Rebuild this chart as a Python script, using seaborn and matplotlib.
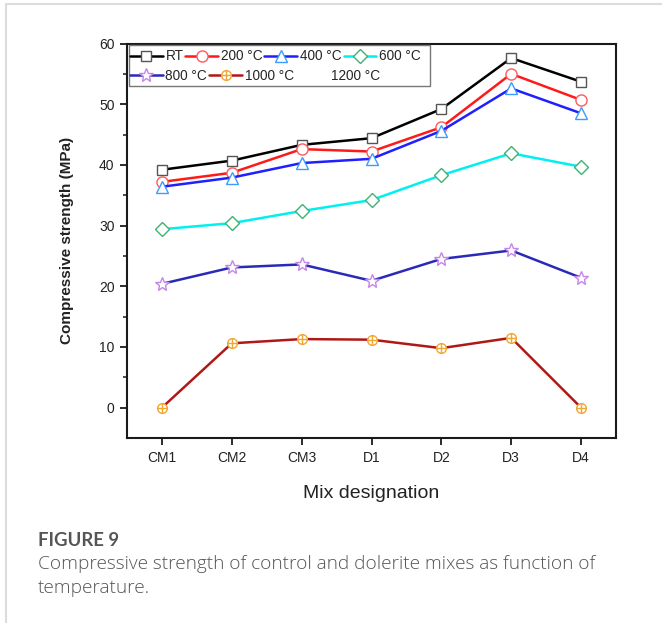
import numpy as np
import pandas as pd
import matplotlib
matplotlib.use("Agg")
import matplotlib.pyplot as plt
from matplotlib.lines import Line2D
from matplotlib.patches import Rectangle
from matplotlib.path import Path
import seaborn as sns

# ---------------- data ----------------
mixes = ["CM1", "CM2", "CM3", "D1", "D2", "D3", "D4"]
rt = [39.2, 40.7, 43.3, 44.4, 49.2, 57.6, 53.7]
t200 = [37.2, 38.7, 42.6, 42.2, 46.2, 55.0, 50.7]
t400 = [36.4, 37.9, 40.3, 41.0, 45.6, 52.6, 48.5]
t600 = [29.4, 30.4, 32.4, 34.2, 38.3, 41.9, 39.7]
t800 = [20.4, 23.1, 23.6, 20.9, 24.5, 25.9, 21.4]
t1000 = [0.0, 10.6, 11.3, 11.2, 9.8, 11.5, 0.0]
series_labels = ["RT", "200 °C", "400 °C", "600 °C", "800 °C", "1000 °C", "1200 °C"]
yticks = [0, 10, 20, 30, 40, 50, 60]

values = [rt, t200, t400, t600, t800, t1000]
df = pd.DataFrame({
    "mix": mixes * len(values),
    "strength": np.concatenate(values),
    "series": np.repeat(series_labels[:len(values)], len(mixes)),
})

# circle with plus marker
circ = Path.unit_circle()
cross = Path([[-1, 0], [1, 0], [0, -1], [0, 1]],
             [Path.MOVETO, Path.LINETO, Path.MOVETO, Path.LINETO])
oplus = Path.make_compound_path(circ, cross)

styles = {
    "RT": dict(color="#000000", marker="s", mec="#555555"),
    "200 °C": dict(color="#ff1a1a", marker="o", mec="#ff5a5a"),
    "400 °C": dict(color="#1f1fff", marker="^", mec="#3d9bff"),
    "600 °C": dict(color="#00f0f0", marker="D", mec="#3cb371"),
    "800 °C": dict(color="#2a2ab8", marker="*", mec="#c586e8"),
    "1000 °C": dict(color="#b01818", marker=oplus, mec="#f0a830"),
}
msizes = {"RT": 7, "200 °C": 8, "400 °C": 8, "600 °C": 7, "800 °C": 10, "1000 °C": 7}

sns.set_style("white")
plt.rcParams["font.family"] = ["Liberation Sans", "DejaVu Sans"]

W, H = 662, 623
fig = plt.figure(figsize=(W / 100, H / 100), dpi=100)
ax = fig.add_axes([127 / W, 1 - 438 / H, (616 - 127) / W, (438 - 43.5) / H])

for lab in series_labels[:len(values)]:
    st = styles[lab]
    sub = df[df["series"] == lab]
    sns.lineplot(data=sub, x="mix", y="strength", ax=ax, sort=False,
                 color=st["color"], linewidth=1.8, marker=st["marker"],
                 markersize=msizes[lab], markerfacecolor="white",
                 markeredgecolor=st["mec"], markeredgewidth=1.0, label=lab)

ax.set_xlim(-0.5, len(mixes) - 0.5)
ax.set_ylim(-5, 60)
ax.set_yticks(yticks)
ax.set_yticks([5, 15, 25, 35, 45, 55], minor=True)

for sp in ax.spines.values():
    sp.set_visible(True)
    sp.set_color("#1a1a1a")
    sp.set_linewidth(1.5)

ax.tick_params(axis="both", which="major", direction="out", length=5, width=1.3,
               color="#1a1a1a", labelsize=10, labelcolor="#222222",
               left=True, bottom=True, top=False, right=False, pad=4)
ax.tick_params(axis="y", which="minor", direction="out", length=3, width=1.1,
               color="#1a1a1a", left=True)

ax.set_ylabel("Compressive strength (MPa)", fontsize=11, fontweight="bold",
              color="#222222", labelpad=18)
ax.set_xlabel("Mix designation", fontsize=14, color="#222222", labelpad=15)

# legend: two independently laid-out rows inside one frame
handles, labels = ax.get_legend_handles_labels()
if ax.get_legend():
    ax.get_legend().remove()
handles.append(Line2D([], [], linestyle="none", marker="none"))
labels.append("1200 °C")

common = dict(fontsize=9.8, frameon=False, handlelength=2.4, handletextpad=0.2,
              columnspacing=0.15, borderpad=0.0, borderaxespad=0.0, numpoints=1,
              bbox_transform=fig.transFigure, loc="center left")
leg1 = ax.legend(handles[:4], labels[:4], ncol=4,
                 bbox_to_anchor=(130 / W, 1 - 56.5 / H), **common)
leg1.set_zorder(6)
ax.add_artist(leg1)
leg2 = ax.legend(handles[4:], labels[4:], ncol=3,
                 bbox_to_anchor=(130 / W, 1 - 76 / H), **common)
leg2.set_zorder(6)
frame = Rectangle((128.5 / W, 1 - 86 / H), (430 - 128.5) / W, (86 - 45) / H,
                  transform=fig.transFigure, facecolor="white", edgecolor="#777777",
                  linewidth=1.0, zorder=5)
ax.add_artist(frame)

# caption
fig.text(38 / W, 1 - 540 / H, "FIGURE 9", fontsize=13.3, color="#555555",
         family="Lato", fontweight="bold", va="center", ha="left")
fig.text(38 / W, 1 - 564 / H,
         "Compressive strength of control and dolerite mixes as function of",
         fontsize=13.7, color="#555555", family="Open Sans", fontweight="light",
         va="center", ha="left")
fig.text(38 / W, 1 - 588 / H, "temperature.", fontsize=13.7, color="#555555",
         family="Open Sans", fontweight="light", va="center", ha="left")

# page frame lines
fig.add_artist(Line2D([6 / W, 6 / W], [0, 1 - 4 / H], transform=fig.transFigure,
                      color="#dcdcdc", linewidth=1.5))
fig.add_artist(Line2D([6 / W, 1], [1 - 4 / H, 1 - 4 / H], transform=fig.transFigure,
                      color="#dcdcdc", linewidth=1.5))

fig.savefig("out.png", dpi=100)
